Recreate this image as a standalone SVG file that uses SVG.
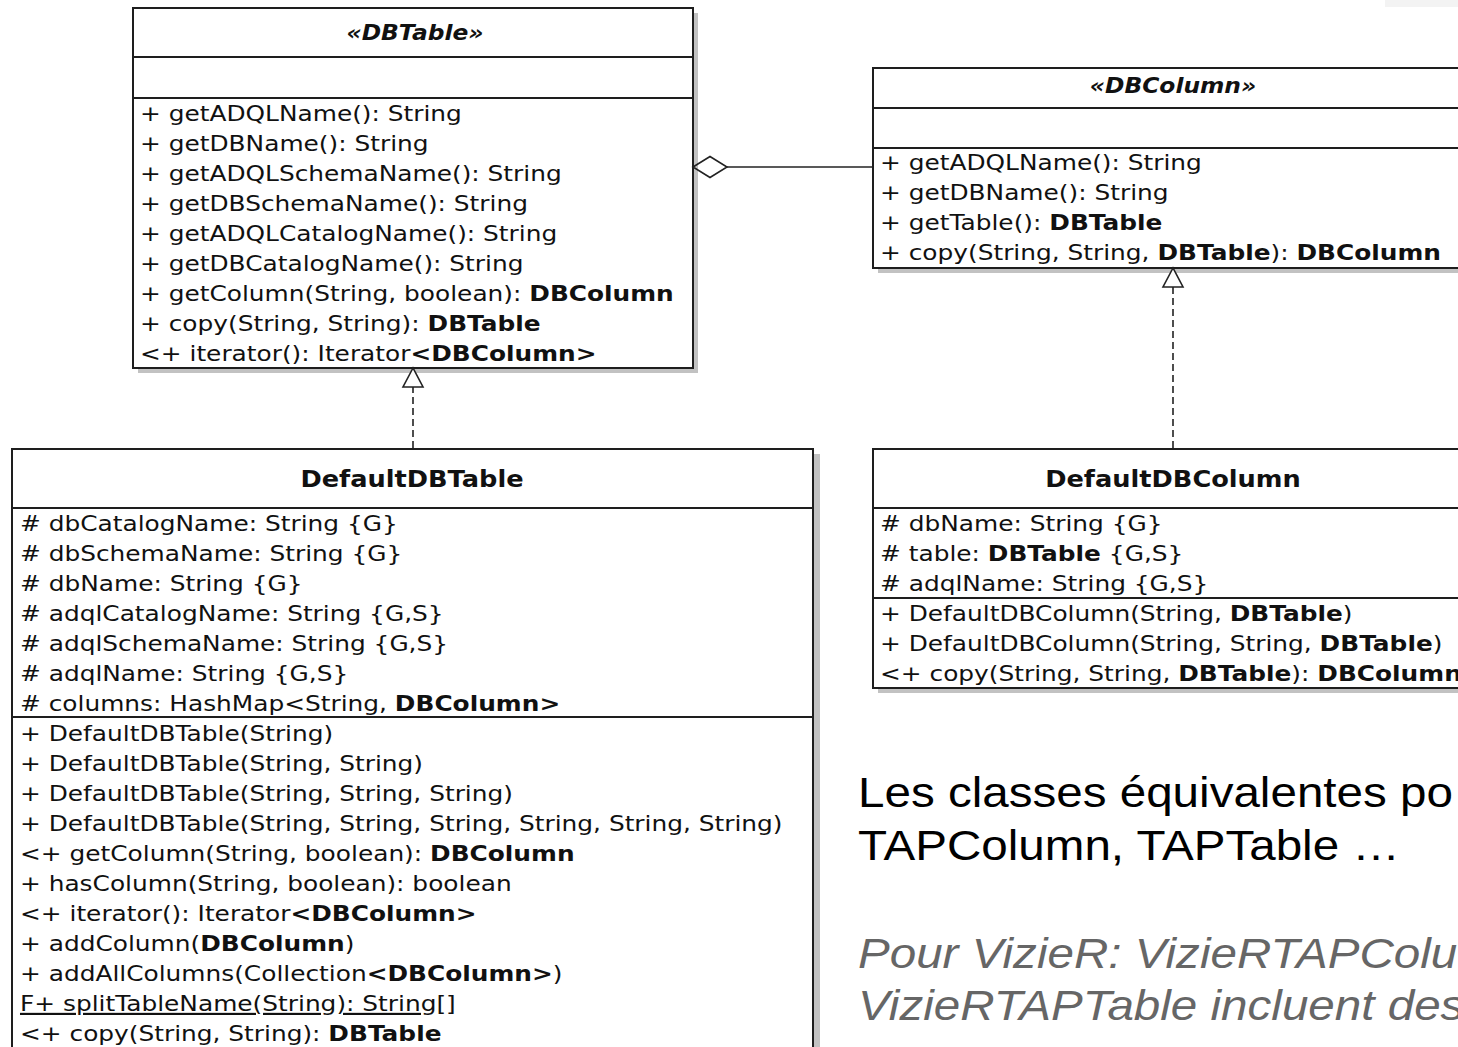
<svg xmlns="http://www.w3.org/2000/svg" width="1458" height="1047" viewBox="0 0 1458 1047">
<style>
.bg{fill:#ffffff}
.box{fill:#ffffff;stroke:#1e1e1e;stroke-width:2}
.shadow{fill:#c2c2c2}
.sep{stroke:#1e1e1e;stroke-width:2}
.m{font-family:"DejaVu Sans",sans-serif;font-size:21.5px;fill:#111;transform-box:fill-box;transform-origin:0 0;transform:scaleX(1.155)}
.title{font-family:"DejaVu Sans",sans-serif;font-size:22.5px;font-weight:bold;fill:#111;text-anchor:middle;transform-box:fill-box;transform-origin:50% 0;transform:scaleX(1.14)}
.it{font-style:italic;font-size:20.5px}
.b{font-weight:bold}
.u{text-decoration:underline}
.conn{fill:none;stroke:#222;stroke-width:1.6}
.dash{stroke-dasharray:7 4}
.note{font-family:"Liberation Sans",Arial,sans-serif;font-size:42px;transform-box:fill-box;transform-origin:0 0;transform:scaleX(1.133)}
.note1{fill:#000}
.note2{fill:#666;font-style:italic}
</style>
<defs>
<marker id="tri" markerUnits="userSpaceOnUse" markerWidth="24" markerHeight="24" viewBox="-22 -12 24 24" refX="0" refY="0" orient="auto" overflow="visible">
<path d="M0,0 L-19,-10 L-19,10 Z" fill="#ffffff" stroke="#222" stroke-width="1.6"/>
</marker>
<marker id="dia" markerUnits="userSpaceOnUse" markerWidth="40" markerHeight="24" viewBox="0 -12 40 24" refX="34" refY="0" orient="auto" overflow="visible">
<path d="M0,0 L17,-10.5 L34,0 L17,10.5 Z" fill="none" stroke="#222" stroke-width="1.6"/>
</marker>
</defs>
<rect class="bg" x="0" y="0" width="1458" height="1047"/>
<rect x="1385" y="0" width="73" height="7" fill="#f3f3f3"/>

<g id="DBTable">
<rect class="shadow" x="138" y="13" width="560" height="360"/>
<rect class="box" x="133" y="8" width="560" height="360"/>
<line class="sep" x1="133" y1="57" x2="693" y2="57"/>
<line class="sep" x1="133" y1="98" x2="693" y2="98"/>
<text class="title it" x="415" y="40">«DBTable»</text>
<text class="m" x="140" y="121">+ getADQLName(): String</text>
<text class="m" x="140" y="151">+ getDBName(): String</text>
<text class="m" x="140" y="181">+ getADQLSchemaName(): String</text>
<text class="m" x="140" y="211">+ getDBSchemaName(): String</text>
<text class="m" x="140" y="241">+ getADQLCatalogName(): String</text>
<text class="m" x="140" y="271">+ getDBCatalogName(): String</text>
<text class="m" x="140" y="301">+ getColumn(String, boolean): <tspan class="b">DBColumn</tspan></text>
<text class="m" x="140" y="331">+ copy(String, String): <tspan class="b">DBTable</tspan></text>
<text class="m" x="140" y="361">&lt;+ iterator(): Iterator<tspan class="b">&lt;DBColumn&gt;</tspan></text>
</g>

<g id="DBColumn">
<rect class="shadow" x="878" y="73" width="600" height="200"/>
<rect class="box" x="873" y="68" width="600" height="200"/>
<line class="sep" x1="873" y1="108" x2="1473" y2="108"/>
<line class="sep" x1="873" y1="148" x2="1473" y2="148"/>
<text class="title it" x="1173" y="93">«DBColumn»</text>
<text class="m" x="880" y="170">+ getADQLName(): String</text>
<text class="m" x="880" y="200">+ getDBName(): String</text>
<text class="m" x="880" y="230">+ getTable(): <tspan class="b">DBTable</tspan></text>
<text class="m" x="880" y="260">+ copy(String, String, <tspan class="b">DBTable</tspan>): <tspan class="b">DBColumn</tspan></text>
</g>

<g id="DefaultDBTable">
<rect class="shadow" x="18" y="454" width="802" height="620"/>
<rect class="box" x="12" y="449" width="801" height="620"/>
<line class="sep" x1="12" y1="508" x2="813" y2="508"/>
<line class="sep" x1="12" y1="717" x2="813" y2="717"/>
<text class="title" x="412" y="487">DefaultDBTable</text>
<text class="m" x="20" y="531"># dbCatalogName: String {G}</text>
<text class="m" x="20" y="561"># dbSchemaName: String {G}</text>
<text class="m" x="20" y="591"># dbName: String {G}</text>
<text class="m" x="20" y="621"># adqlCatalogName: String {G,S}</text>
<text class="m" x="20" y="651"># adqlSchemaName: String {G,S}</text>
<text class="m" x="20" y="681"># adqlName: String {G,S}</text>
<text class="m" x="20" y="711"># columns: HashMap&lt;String, <tspan class="b">DBColumn&gt;</tspan></text>
<text class="m" x="20" y="741">+ DefaultDBTable(String)</text>
<text class="m" x="20" y="771">+ DefaultDBTable(String, String)</text>
<text class="m" x="20" y="801">+ DefaultDBTable(String, String, String)</text>
<text class="m" x="20" y="831">+ DefaultDBTable(String, String, String, String, String, String)</text>
<text class="m" x="20" y="861">&lt;+ getColumn(String, boolean): <tspan class="b">DBColumn</tspan></text>
<text class="m" x="20" y="891">+ hasColumn(String, boolean): boolean</text>
<text class="m" x="20" y="921">&lt;+ iterator(): Iterator<tspan class="b">&lt;DBColumn&gt;</tspan></text>
<text class="m" x="20" y="951">+ addColumn(<tspan class="b">DBColumn</tspan>)</text>
<text class="m" x="20" y="981">+ addAllColumns(Collection<tspan class="b">&lt;DBColumn&gt;</tspan>)</text>
<text class="m u" x="20" y="1011">F+ splitTableName(String): String[]</text>
<text class="m" x="20" y="1041">&lt;+ copy(String, String): <tspan class="b">DBTable</tspan></text>
</g>

<g id="DefaultDBColumn">
<rect class="shadow" x="878" y="454" width="600" height="239"/>
<rect class="box" x="873" y="449" width="600" height="239"/>
<line class="sep" x1="873" y1="508" x2="1473" y2="508"/>
<line class="sep" x1="873" y1="598" x2="1473" y2="598"/>
<text class="title" x="1173" y="487">DefaultDBColumn</text>
<text class="m" x="880" y="531"># dbName: String {G}</text>
<text class="m" x="880" y="561"># table: <tspan class="b">DBTable</tspan> {G,S}</text>
<text class="m" x="880" y="591"># adqlName: String {G,S}</text>
<text class="m" x="880" y="621">+ DefaultDBColumn(String, <tspan class="b">DBTable</tspan>)</text>
<text class="m" x="880" y="651">+ DefaultDBColumn(String, String, <tspan class="b">DBTable</tspan>)</text>
<text class="m" x="880" y="681">&lt;+ copy(String, String, <tspan class="b">DBTable</tspan>): <tspan class="b">DBColumn</tspan></text>
</g>

<g id="connectors">
<path class="conn dash" d="M413,448 L413,368" marker-end="url(#tri)"/>
<path class="conn dash" d="M1173,448 L1173,268" marker-end="url(#tri)"/>
<path class="conn" d="M727,167 L873,167" marker-start="url(#dia)"/>
</g>

<g id="notes">
<text class="note note1" x="858" y="807">Les classes équivalentes po</text>
<text class="note note1" x="858" y="860">TAPColumn, TAPTable …</text>
<text class="note note2" x="858" y="968">Pour VizieR: VizieRTAPColu</text>
<text class="note note2" x="858" y="1020">VizieRTAPTable incluent des</text>
</g>
</svg>
